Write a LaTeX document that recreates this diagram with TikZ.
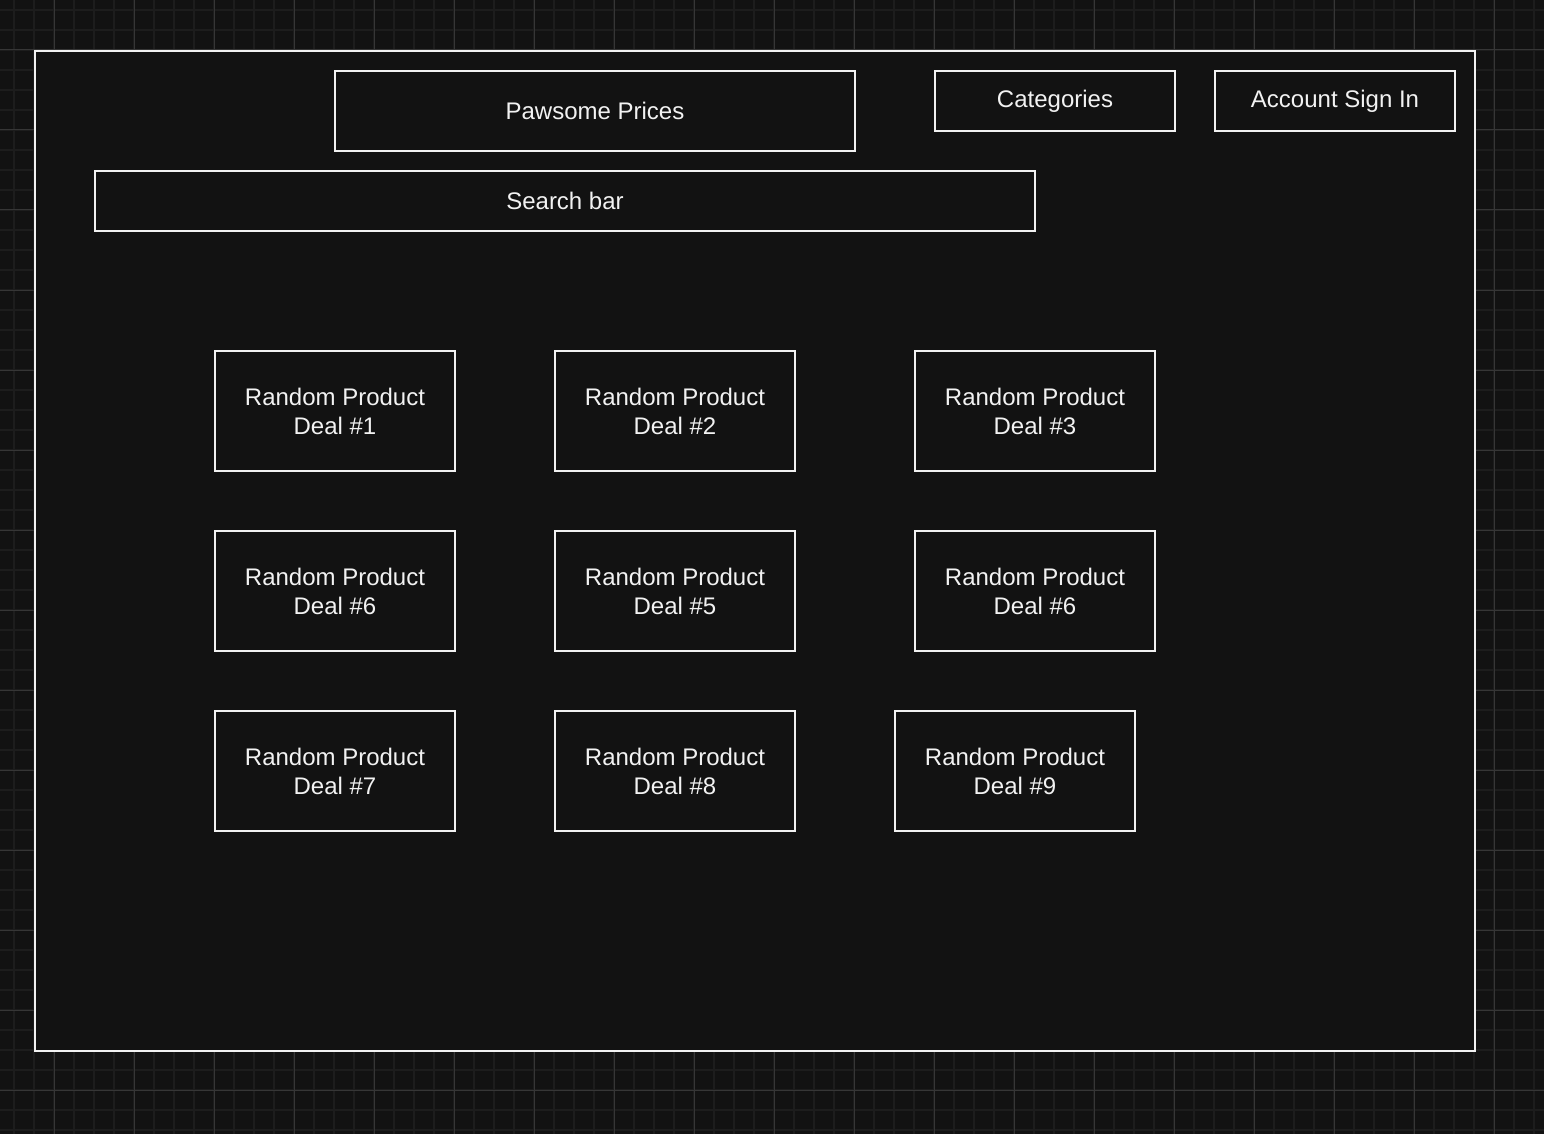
\documentclass[tikz,border=0pt]{standalone}
\usepackage{fontspec}
\setmainfont{Liberation Sans}
\definecolor{canvas}{HTML}{121212}
\definecolor{gridminor}{HTML}{1D1D1D}
\definecolor{gridmajor}{HTML}{363636}
\definecolor{ink}{HTML}{F2F2F2}
\tikzset{
  box/.style={draw=ink, line width=1.6pt, fill=canvas, text=ink,
    inner sep=0pt, align=center,
    font=\fontsize{24}{29}\selectfont},
  deal/.style={box, minimum width=240pt, minimum height=120pt},
  bar/.style={box, minimum height=60pt},
}
\begin{document}
\begin{tikzpicture}[x=1pt, y=-1pt]
  % canvas and background grid
  \fill[canvas] (0,0) rectangle (1544,1134);
  \useasboundingbox (0,0) rectangle (1544,1134);
  \foreach \x in {14,34,...,1544} \draw[gridminor, line width=2pt] (\x,0) -- (\x,1134);
  \foreach \y in {10,30,...,1134} \draw[gridminor, line width=2pt] (0,\y) -- (1544,\y);
  \foreach \x in {54,134,...,1544} \draw[gridmajor, line width=1pt] (\x,0) -- (\x,1134);
  \foreach \y in {50,130,...,1134} \draw[gridmajor, line width=1pt] (0,\y) -- (1544,\y);

  % page frame
  \node[draw=ink, line width=2pt, fill=canvas, inner sep=0pt,
        minimum width=1440pt, minimum height=1000pt] (page) at (755,551) {};

  % header
  \node[box, minimum width=520pt, minimum height=80pt] (title) at (595,111) {Pawsome Prices};
  \node[bar, minimum width=240pt] (categories) at (1055,101) {Categories};
  \node[bar, minimum width=240pt] (account) at (1335,101) {Account Sign In};
  \node[bar, minimum width=940pt] (search) at (565,201) {Search bar};

  % product deals grid
  \node[deal] (d1) at (335,411) {Random Product\\Deal \#1};
  \node[deal] (d2) at (675,411) {Random Product\\Deal \#2};
  \node[deal] (d3) at (1035,411) {Random Product\\Deal \#3};
  \node[deal] (d4) at (335,591) {Random Product\\Deal \#6};
  \node[deal] (d5) at (675,591) {Random Product\\Deal \#5};
  \node[deal] (d6) at (1035,591) {Random Product\\Deal \#6};
  \node[deal] (d7) at (335,771) {Random Product\\Deal \#7};
  \node[deal] (d8) at (675,771) {Random Product\\Deal \#8};
  \node[deal] (d9) at (1015,771) {Random Product\\Deal \#9};
\end{tikzpicture}
\end{document}
